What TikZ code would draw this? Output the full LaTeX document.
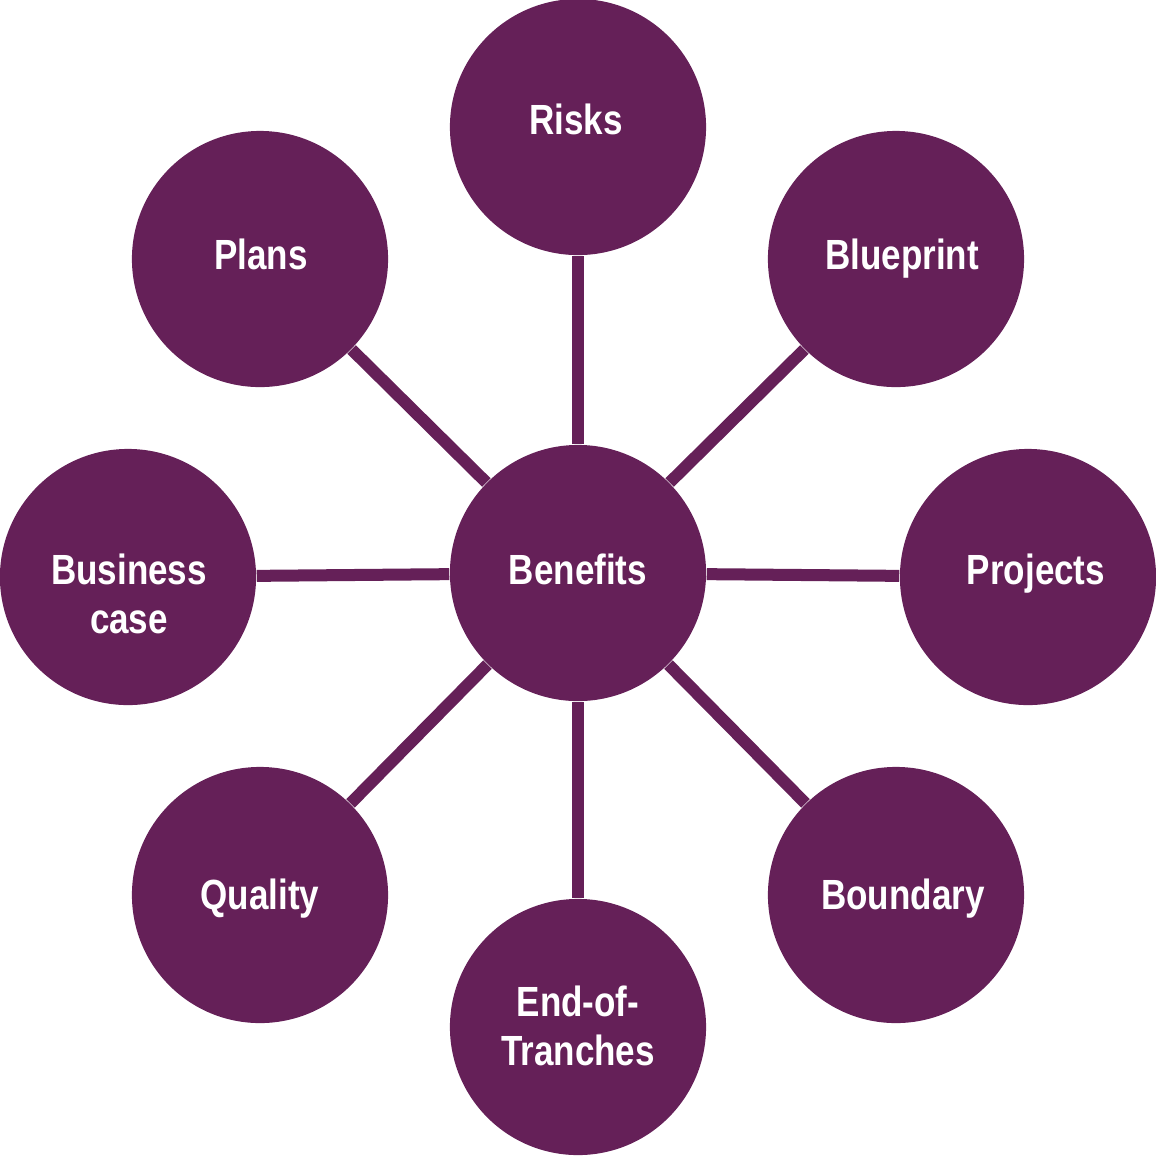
\documentclass[tikz,border=0pt]{standalone}
\usepackage{fontspec}
\setmainfont{Liberation Sans}[FakeStretch=0.83]
\usepackage{pgf,tikz}
\usetikzlibrary{shapes, calc, math}
\definecolor{plum}{HTML}{652058}

\begin{document}
\begin{tikzpicture}[x=0.01cm, y=-0.01cm,
  bubble/.style={circle, fill=plum, minimum size=2.56cm, inner sep=0pt},
  tag/.style={text=white, align=center, inner sep=0pt,
    font=\bfseries\fontsize{12}{14}\selectfont},
  spoke/.style={draw=plum, line width=0.12cm}]

\useasboundingbox (0,0) rectangle (1156,1156);

\node[bubble, label={[tag, shift={(0,-4)}]center:Benefits}] (benefits) at (578,573) {};

\node[bubble, label={[tag, shift={(-2,-8)}]center:Risks}]      (risks)     at (578,127)  {};
\node[bubble, label={[tag, shift={(6,0)}]center:Blueprint}]    (blueprint) at (896,259)  {};
\node[bubble, label={[tag, shift={(8,-3)}]center:Projects}]    (projects)  at (1028,577) {};
\node[bubble, label={[tag, shift={(7,4)}]center:Boundary}]     (boundary)  at (896,895)  {};
\node[bubble, label={[tag, shift={(0,-1)}]center:End-of-\\Tranches}] (tranches) at (578,1027) {};
\node[bubble, label={[tag, shift={(0,4)}]center:Quality}]      (quality)   at (260,895)  {};
\node[bubble, label={[tag, shift={(1,17)}]center:Business\\case}] (business) at (128,577) {};
\node[bubble, label={[tag, shift={(1,-5)}]center:Plans}]       (plans)     at (260,259)  {};

\foreach \n in {risks, blueprint, projects, boundary, tranches, quality, business, plans}
  \draw[spoke] (benefits) -- (\n);

\end{tikzpicture}
\end{document}
